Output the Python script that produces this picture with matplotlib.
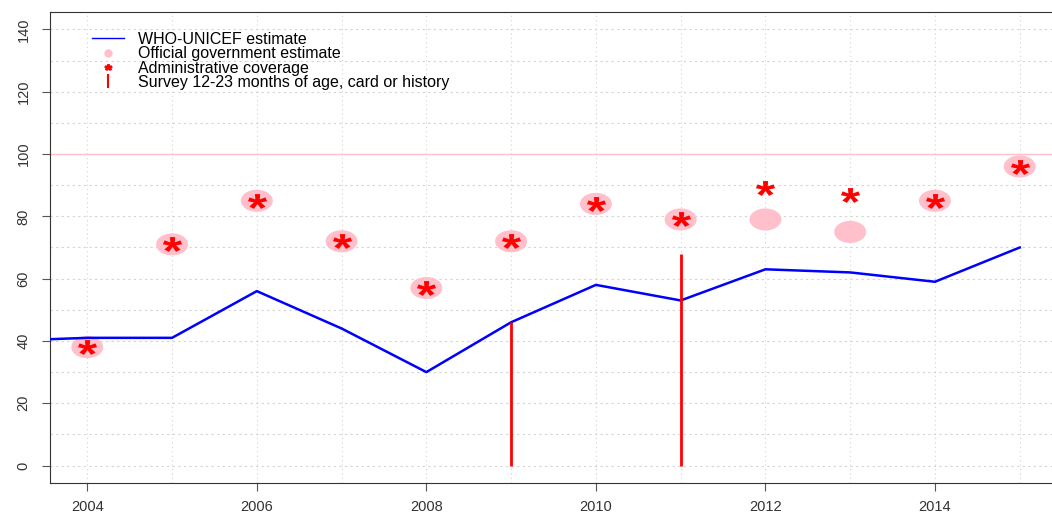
import numpy as np
import matplotlib.pyplot as plt
from matplotlib.path import Path
from matplotlib.lines import Line2D
from matplotlib.textpath import TextPath
from matplotlib.font_manager import FontProperties

plt.rcParams['font.family'] = ['Liberation Sans', 'DejaVu Sans']

# ---------------- data ----------------
years_line = [2003, 2004, 2005, 2006, 2007, 2008, 2009, 2010, 2011, 2012, 2013, 2014, 2015]
who_unicef = [40, 41, 41, 56, 44, 30, 46, 58, 53, 63, 62, 59, 70]

years = [2004, 2005, 2006, 2007, 2008, 2009, 2010, 2011, 2012, 2013, 2014, 2015]
official = [38, 71, 85, 72, 57, 72, 84, 79, 79, 75, 85, 96]
admin = [38, 71, 85, 72, 57, 72, 84, 79, 89, 87, 85, 96]

survey_years = [2009, 2011]
survey_vals = [46, 68]

# ellipse marker (reference is stretched horizontally)
t = np.linspace(0, 2 * np.pi, 60)
ell = Path(np.column_stack([np.cos(t), 0.69 * np.sin(t)]), closed=True)

# bold asterisk glyph as marker, centred and widened a bit
tp = TextPath((0, 0), '*', prop=FontProperties(family='Liberation Sans', weight='bold'))
polys = tp.to_polygons()
allv = np.vstack(polys)
c = (allv.max(axis=0) + allv.min(axis=0)) / 2
star = Path.make_compound_path(*[Path((p - c) * [1.25, 1.0], closed=True) for p in polys])

W, H = 1052, 512
fig = plt.figure(figsize=(W / 100, H / 100), dpi=100)
x0, x1 = 50, 1057
y0, y1 = 483, 12
ax = fig.add_axes([x0 / W, 1 - y0 / H, (x1 - x0) / W, (y0 - y1) / H])

ax.set_xlim(2003.56, 2015.44)
ax.set_ylim(-5.6, 145.6)

# grid
for yy in range(0, 150, 10):
    ax.axhline(yy, color='#d3d3d3', lw=0.8, ls=(0, (2, 3)), zorder=0)
for xx in range(2004, 2016):
    ax.axvline(xx, color='#d3d3d3', lw=0.8, ls=(0, (1, 3)), zorder=0)

ax.axhline(100, color='pink', lw=1, zorder=1)

ax.plot(years_line, who_unicef, color='blue', lw=1.8, zorder=3)
ax.scatter(years, official, marker=ell, s=530, color='pink', edgecolors='none', zorder=2)
ax.scatter(years, admin, marker=star, s=190, color='red', linewidths=0, zorder=4)
ax.vlines(survey_years, 0, survey_vals, color='red', lw=2, zorder=3)

ax.set_xticks(range(2004, 2016, 2))
ax.set_yticks(range(0, 141, 20))
ax.tick_params(axis='both', labelsize=10.5, color='#555555', labelcolor='#333333', length=6)
ax.tick_params(axis='x', pad=6)
ax.tick_params(axis='y', pad=8)
for lab in ax.get_yticklabels():
    lab.set_rotation(90)
    lab.set_va('center')
for s in ax.spines.values():
    s.set_color('#333333')

handles = [
    Line2D([], [], color='blue', lw=1),
    Line2D([], [], ls='none', marker='o', ms=5, color='pink'),
    Line2D([], [], ls='none', marker=star, ms=5, color='red'),
    Line2D([], [], ls='none', marker='|', ms=10, mew=1.5, color='red'),
]
labels = ['WHO-UNICEF estimate', 'Official government estimate',
          'Administrative coverage', 'Survey 12-23 months of age, card or history']
fig.legend(handles, labels, loc='upper left', bbox_to_anchor=(84 / W, 1 - 24 / H),
           frameon=False, fontsize=11.5, labelspacing=-0.04, handlelength=2.0,
           handletextpad=0.85, borderpad=0)

fig.savefig('out.png', dpi=100)
